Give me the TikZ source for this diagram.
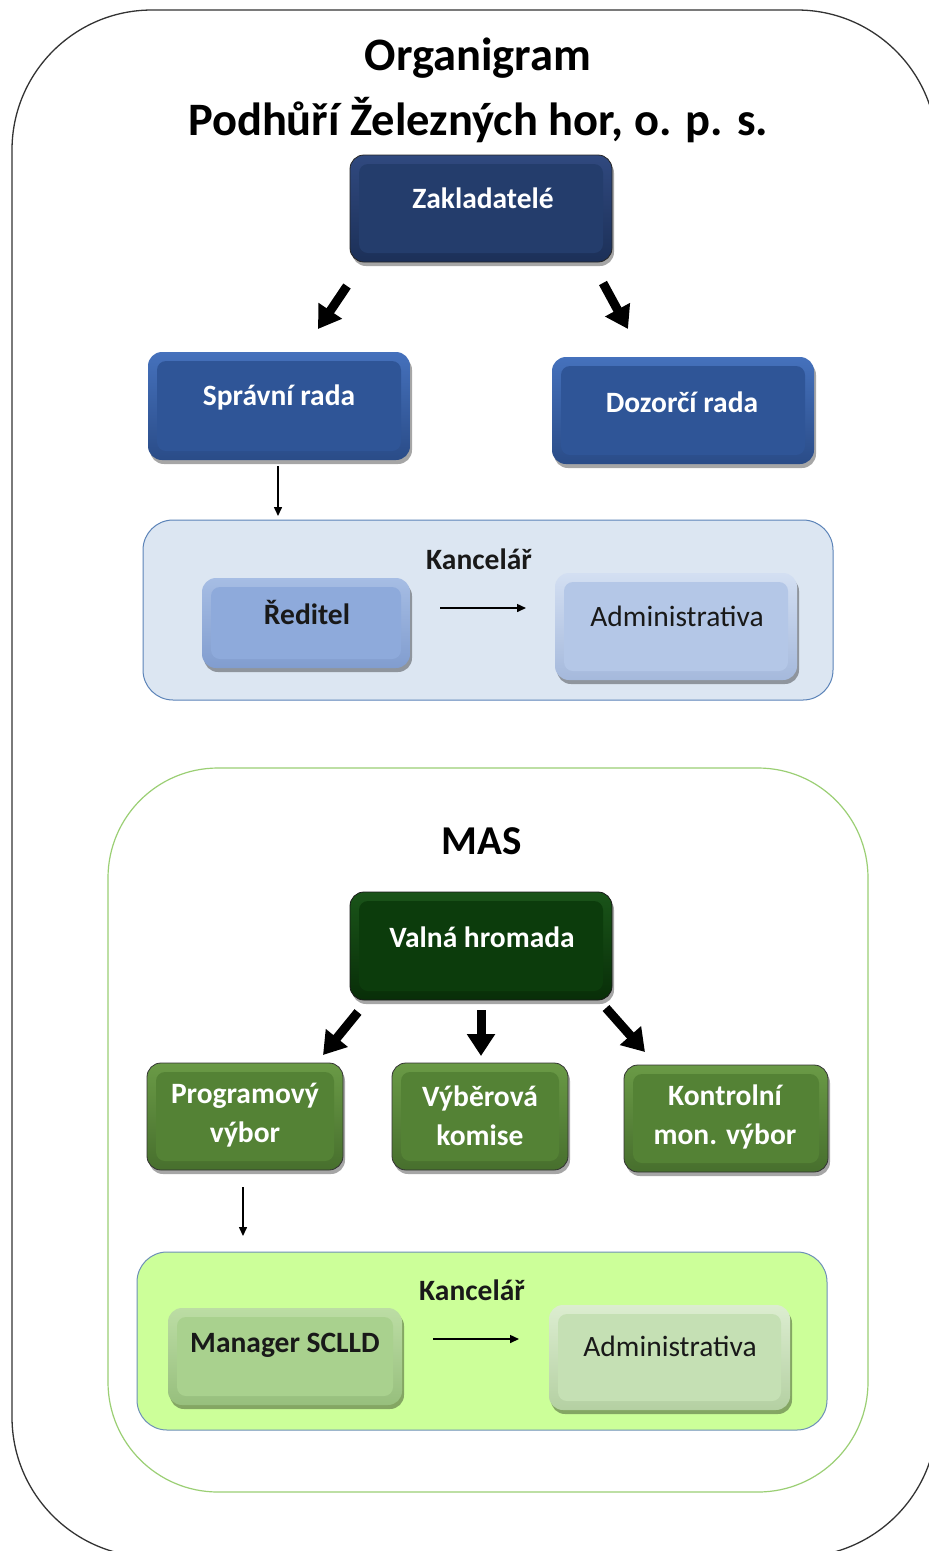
\documentclass[tikz,border=0pt]{standalone}
\usepackage{fontspec}
\setmainfont{Carlito}
\usetikzlibrary{arrows.meta,shadows}
\definecolor{navyF}{HTML}{243D6C}\definecolor{navyT}{HTML}{30497F}\definecolor{navyB}{HTML}{1C3058}
\definecolor{blueF}{HTML}{2F5597}\definecolor{blueT}{HTML}{4571BC}\definecolor{blueB}{HTML}{2A4C88}
\definecolor{redF}{HTML}{8EAADB}\definecolor{redT}{HTML}{A6BDE4}\definecolor{redB}{HTML}{819DCF}
\definecolor{admbF}{HTML}{B4C7E7}\definecolor{admbT}{HTML}{D3DFF2}\definecolor{admbB}{HTML}{A5B9DC}
\definecolor{kancB}{HTML}{DCE6F2}\definecolor{kancBd}{HTML}{5B83B8}
\definecolor{vhF}{HTML}{0C3C0C}\definecolor{vhT}{HTML}{1A5419}\definecolor{vhB}{HTML}{082E08}
\definecolor{grF}{HTML}{548235}\definecolor{grT}{HTML}{6A9A46}\definecolor{grB}{HTML}{476F2D}
\definecolor{mgF}{HTML}{A9D18E}\definecolor{mgT}{HTML}{BCDDA4}\definecolor{mgB}{HTML}{97BF7D}
\definecolor{agF}{HTML}{C5E0B4}\definecolor{agT}{HTML}{DCEDD0}\definecolor{agB}{HTML}{B4D0A2}
\definecolor{kancG}{HTML}{CCFF99}\definecolor{kancGd}{HTML}{6D8FB8}
\definecolor{masBd}{HTML}{9BCF74}
\begin{document}
\begin{tikzpicture}[x=1pt,y=-1pt,
  facebox/.style n args={3}{rounded corners=14pt, top color=#1, bottom color=#2,
    path picture={\fill[#3, rounded corners=9pt]
      ([xshift=9pt,yshift=-9pt]path picture bounding box.north west) rectangle
      ([xshift=-9pt,yshift=9pt]path picture bounding box.south east);},
    drop shadow={shadow xshift=2pt, shadow yshift=-4pt, opacity=0.35, fill=black}},
  navybox/.style={facebox={navyT}{navyB}{navyF}, draw=black!85, line width=0.8pt},
  bluebox/.style={facebox={blueT}{blueB}{blueF}},
  redbox/.style={facebox={redT}{redB}{redF}},
  admbbox/.style={facebox={admbT}{admbB}{admbF}},
  vhbox/.style={facebox={vhT}{vhB}{vhF}, draw=black!90, line width=0.8pt},
  grbox/.style={facebox={grT}{grB}{grF}, draw=black!80, line width=0.8pt},
  mgbox/.style={facebox={mgT}{mgB}{mgF}},
  agbox/.style={facebox={agT}{agB}{agF}},
  title/.style={font=\fontsize{46.5}{50}\selectfont\bfseries, text=black, inner sep=0pt},
  mastitle/.style={font=\fontsize{41}{45}\selectfont\bfseries, text=black, inner sep=0pt},
  wlbl/.style={font=\fontsize{29.5}{39}\selectfont\bfseries, text=white, align=center, inner sep=0pt},
  dlbl/.style={font=\fontsize{29.5}{39}\selectfont\bfseries, text=black!90, align=center, inner sep=0pt},
  rlbl/.style={font=\fontsize{29.5}{34}\selectfont, text=black!90, inner sep=0pt},
  bigarrow/.style={line width=9pt, -{Triangle[length=22pt,width=27pt]}},
  thinarrow/.style={line width=1.5pt, -{Triangle[length=9pt,width=8pt]}}
]
\useasboundingbox (0,0) rectangle (929,1551);
\clip (0,0) rectangle (929,1551);
\fill[white] (0,0) rectangle (929,1551);
\draw[line width=1.3pt, black!80, rounded corners=140pt] (12,10) rectangle (937,1557);

\node[title] (t1) at (478,58) {Organigram};
\node[title] (t2) at (478,120) {Podhůří Železných hor, o. p. s.};

% top part
\node[navybox, minimum width=262pt, minimum height=107pt] (zakl) at (481,208.5) {};
\node[wlbl] (zaklL) at (483,198) {Zakladatelé};
\node[bluebox, minimum width=262pt, minimum height=108pt] (spr) at (279,406) {};
\node[wlbl] (sprL) at (279,397) {Správní rada};
\node[bluebox, minimum width=262pt, minimum height=107pt] (doz) at (683,410.5) {};
\node[wlbl] (dozL) at (682,402) {Dozorčí rada};

\node[draw=kancBd, fill=kancB, line width=1pt, rounded corners=30pt, minimum width=690pt, minimum height=180pt] (kb) at (488,610) {};
\node[dlbl] (kbL) at (479,559) {Kancelář};
\node[redbox, minimum width=208pt, minimum height=90pt] (red) at (306,623) {};
\node[dlbl] (redL) at (307,612) {Ředitel};
\node[admbbox, minimum width=242pt, minimum height=107pt] (admb) at (676,626.5) {};
\node[rlbl] (admbL) at (677,616) {Administrativa};

\coordinate (a1s) at (347,286); \coordinate (a1e) at (318,329);
\coordinate (a2s) at (603,283); \coordinate (a2e) at (628,329);
\draw[bigarrow] (a1s) -- (a1e);
\draw[bigarrow] (a2s) -- (a2e);
\coordinate (t1s) at (278,466); \coordinate (t1e) at (278,516);
\draw[thinarrow] (t1s) -- (t1e);
\coordinate (t2s) at (440,608); \coordinate (t2e) at (526,608);
\draw[thinarrow] (t2s) -- (t2e);

% MAS
\node[draw=masBd, fill=white, line width=1.2pt, rounded corners=110pt, minimum width=760pt, minimum height=724pt] (mas) at (488,1130) {};
\node[mastitle] (masL) at (482,841) {MAS};
\node[vhbox, minimum width=262pt, minimum height=108pt] (vh) at (481,946) {};
\node[wlbl] (vhL) at (482,937) {Valná hromada};
\node[grbox, minimum width=196pt, minimum height=107pt] (pv) at (245,1116.5) {};
\node[wlbl] (pvL) at (245,1115.5) {Programový\\výbor};
\node[grbox, minimum width=176pt, minimum height=107pt] (vk) at (480,1116.5) {};
\node[wlbl] (vkL) at (480,1115.5) {Výběrová\\komise};
\node[grbox, minimum width=204pt, minimum height=107pt] (kmv) at (726,1118.5) {};
\node[wlbl] (kmvL) at (725,1117) {Kontrolní\\mon. výbor};

\coordinate (b1s) at (358,1012); \coordinate (b1e) at (323,1055);
\coordinate (b2s) at (481,1010); \coordinate (b2e) at (481,1056);
\coordinate (b3s) at (606,1008); \coordinate (b3e) at (645,1052);
\draw[bigarrow] (b1s) -- (b1e);
\draw[bigarrow] (b2s) -- (b2e);
\draw[bigarrow] (b3s) -- (b3e);

\coordinate (t3s) at (243,1187); \coordinate (t3e) at (243,1236);
\draw[thinarrow] (t3s) -- (t3e);

\node[draw=kancGd, fill=kancG, line width=1pt, rounded corners=30pt, minimum width=690pt, minimum height=178pt] (kg) at (482,1341) {};
\node[dlbl] (kgL) at (472,1290) {Kancelář};
\node[mgbox, minimum width=234pt, minimum height=97pt] (mg) at (285,1356.5) {};
\node[dlbl] (mgL) at (285,1345) {Manager SCLLD};
\node[agbox, minimum width=241pt, minimum height=105pt] (ag) at (669.5,1357.5) {};
\node[rlbl] (agL) at (670,1346) {Administrativa};
\coordinate (t4s) at (433,1339); \coordinate (t4e) at (519,1339);
\draw[thinarrow] (t4s) -- (t4e);
\end{tikzpicture}
\end{document}
